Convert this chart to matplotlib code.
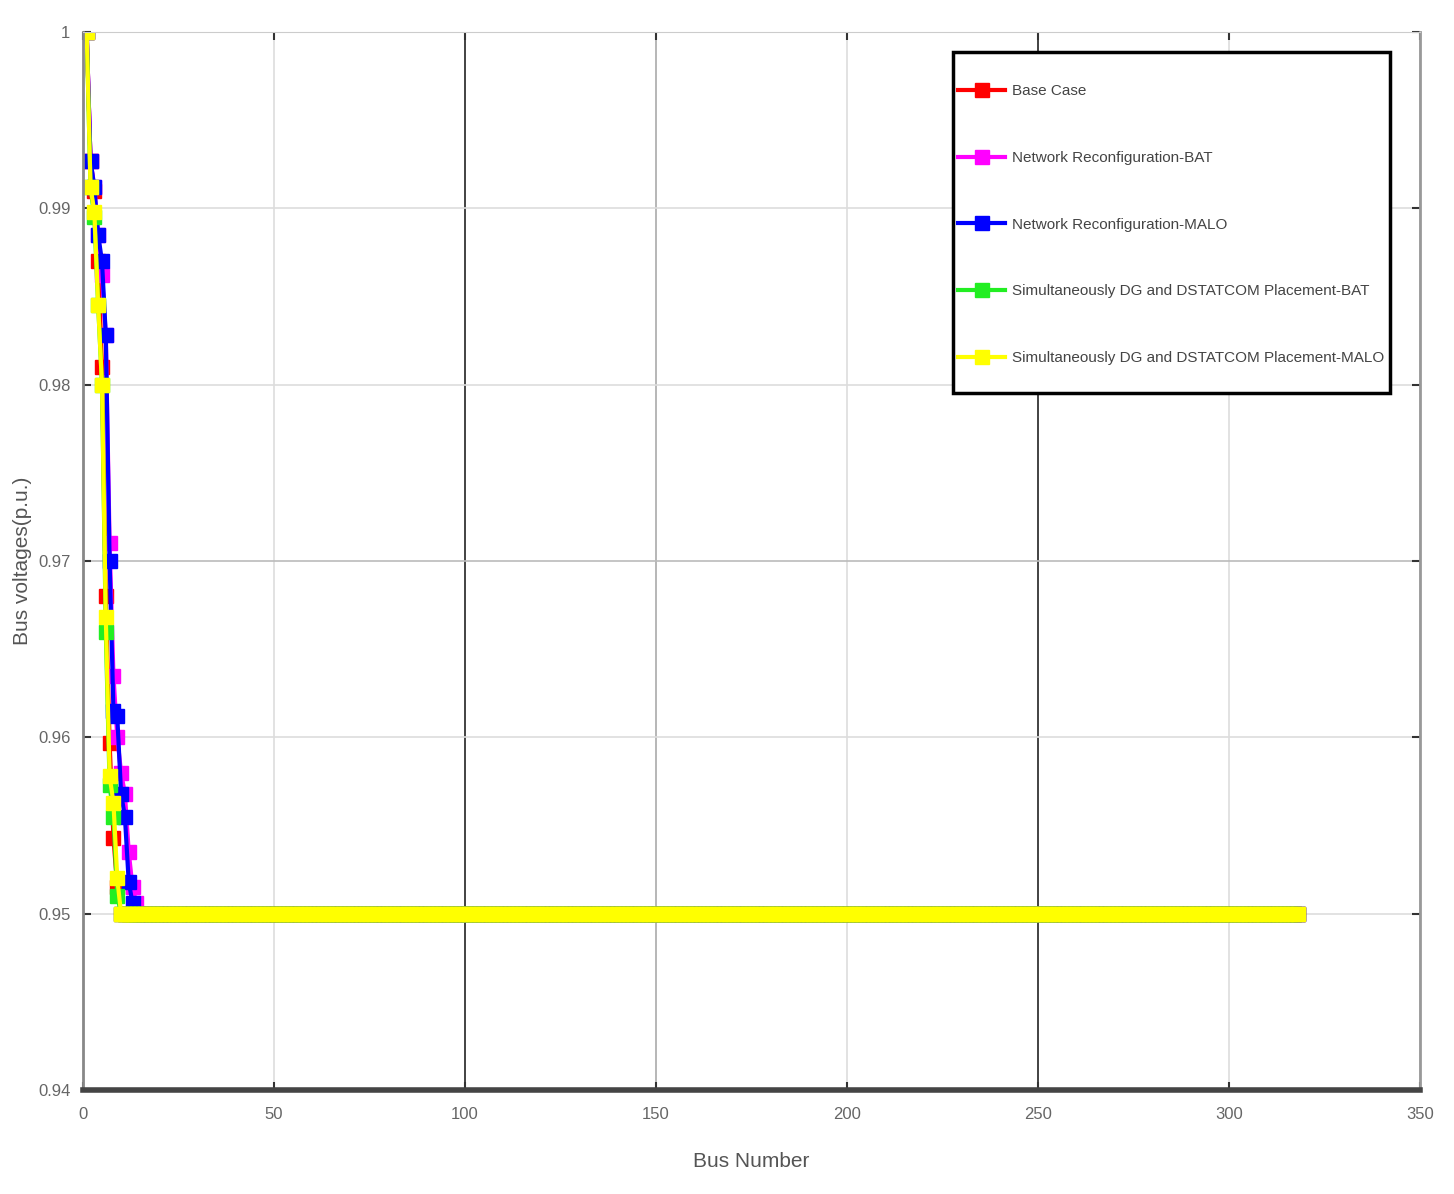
# coding: utf-8
'''
Bus voltage profile for the five operating cases
'''
import matplotlib
matplotlib.use('Agg')
import matplotlib.pyplot as plt
from matplotlib.patches import Rectangle

# voltage (p.u.) at the first buses, the rest of the feeder stays at flat_value
base_case = [1.0, 0.9927, 0.9910, 0.9870, 0.9810, 0.9680, 0.9597, 0.9543, 0.9515, 0.9500]
nr_bat = [1.0, 0.9927, 0.9912, 0.9885, 0.9862, 0.9828, 0.9710, 0.9635, 0.9600,
          0.9580, 0.9568, 0.9535, 0.9515, 0.9506]
nr_malo = [1.0, 0.9927, 0.9912, 0.9885, 0.9870, 0.9828, 0.9700, 0.9615, 0.9612,
           0.9568, 0.9555, 0.9518, 0.9506, 0.9500]
dg_bat = [1.0, 0.9912, 0.9895, 0.9845, 0.9800, 0.9660, 0.9573, 0.9555, 0.9510, 0.9500]
dg_malo = [1.0, 0.9912, 0.9898, 0.9845, 0.9800, 0.9668, 0.9578, 0.9563, 0.9520, 0.9500]

flat_value = 0.95
last_bus = 318

labels = ['Base Case',
          'Network Reconfiguration-BAT',
          'Network Reconfiguration-MALO',
          'Simultaneously DG and DSTATCOM Placement-BAT',
          'Simultaneously DG and DSTATCOM Placement-MALO']
colors = ['#ff0000', '#ff00ff', '#0000ff', '#22ee22', '#ffff00']

x_ticks = [0, 50, 100, 150, 200, 250, 300, 350]
y_ticks = [0.94, 0.95, 0.96, 0.97, 0.98, 0.99, 1.0]
y_ticklabels = ['0.94', '0.95', '0.96', '0.97', '0.98', '0.99', '1']

font = ['Liberation Sans', 'DejaVu Sans']


def full_profile(head):
    vals = list(head) + [flat_value] * (last_bus - len(head))
    return list(range(1, last_bus + 1)), vals


fig = plt.figure(figsize=(14.54, 11.94), dpi=100)
ax = fig.add_axes([0.057, 0.0871, 0.9196, 0.8861])

series = [base_case, nr_bat, nr_malo, dg_bat, dg_malo]
for vals, lab, col in zip(series, labels, colors):
    xs, ys = full_profile(vals)
    ax.plot(xs, ys, '-s', color=col, markerfacecolor=col, markeredgecolor=col,
            linewidth=3, markersize=10.5, label=lab)

ax.set_xlim(0, 350)
ax.set_ylim(0.94, 1.0)
ax.set_xticks(x_ticks)
ax.set_yticks(y_ticks)
ax.set_yticklabels(y_ticklabels)
ax.tick_params(direction='in', top=True, right=True, length=6, width=1.5,
               colors='#333333', labelcolor='#666666', labelsize=12, pad=12)
ax.tick_params(axis='y', pad=9)
for lab in ax.get_xticklabels() + ax.get_yticklabels():
    lab.set_family(font)

ax.grid(True, color='#dddddd', linewidth=1.2)
# scan artefacts: some grid lines look darker in the original
xgrid = ax.xaxis.get_gridlines()
xgrid[2].set_color('#222222')
xgrid[3].set_color('#aaaaaa')
xgrid[5].set_color('#222222')
ax.yaxis.get_gridlines()[3].set_color('#bbbbbb')

ax.spines['left'].set_color('#888888')
ax.spines['left'].set_linewidth(2)
ax.spines['right'].set_color('#999999')
ax.spines['right'].set_linewidth(2)
ax.spines['top'].set_color('#cccccc')
ax.spines['bottom'].set_color('#444444')
ax.spines['bottom'].set_linewidth(4)

ax.set_xlabel('Bus Number', family=font, fontsize=15, color='#555555', labelpad=22)
ax.set_ylabel('Bus voltages(p.u.)', family=font, fontsize=15, color='#555555', labelpad=4)

# legend box drawn separately: tall vertical padding, tight on the left
ax.add_patch(Rectangle((0.651, 0.659), 0.3266, 0.322, transform=ax.transAxes,
                       facecolor='white', edgecolor='black', linewidth=2.5, zorder=5))
leg = ax.legend(loc='center left', bbox_to_anchor=(0.6545, 0.818),
                borderaxespad=0, borderpad=0, frameon=False,
                labelspacing=3.45, handlelength=3.1, handletextpad=0.45,
                prop={'family': font, 'size': 11})
leg.set_zorder(6)
for t in leg.get_texts():
    t.set_color('#444444')

fig.savefig('out.png', dpi=100)
